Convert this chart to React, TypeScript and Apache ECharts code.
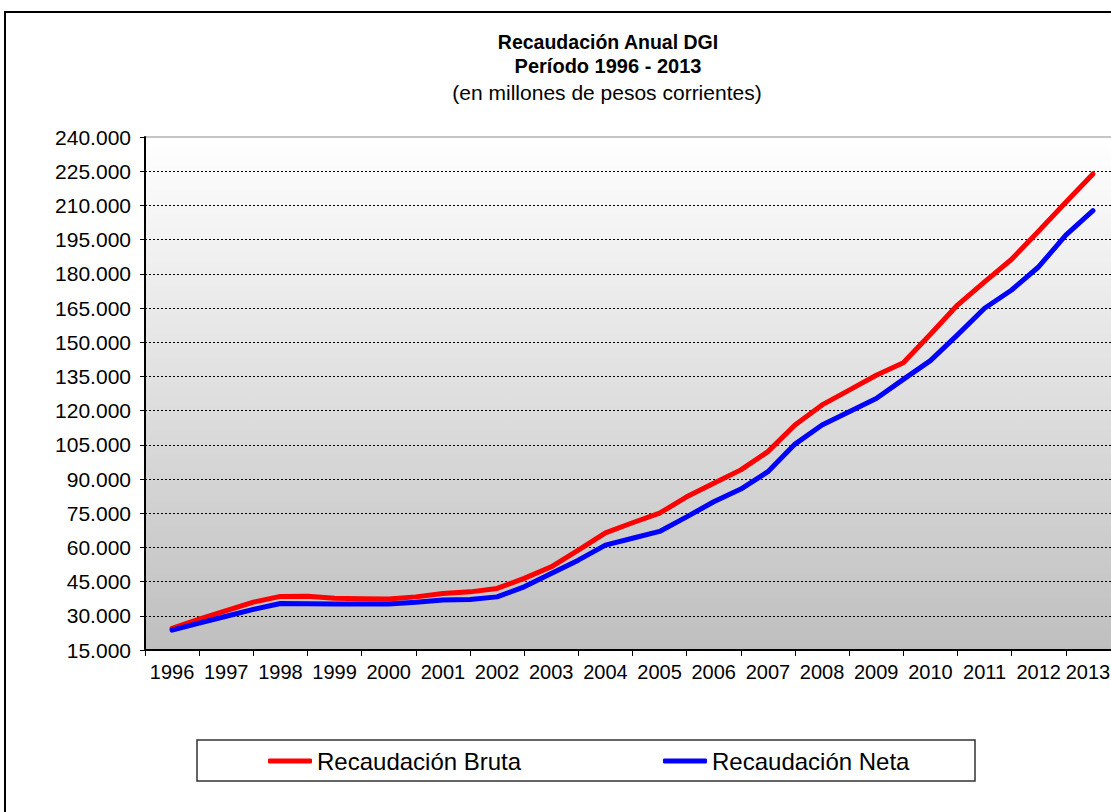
import React, { useEffect, useRef } from 'react';
import * as echarts from 'echarts';

const FONT = '"Liberation Sans", Arial, Helvetica, sans-serif';

const years = ['1996', '1997', '1998', '1999', '2000', '2001', '2002', '2003', '2004', '2005', '2006', '2007', '2008', '2009', '2010', '2011', '2012', '2013'];

// half-year positions of the plotted points (year = category centre)
const periods = [
  1996, 1996.5, 1997, 1997.5, 1998, 1998.5, 1999, 1999.5, 2000, 2000.5,
  2001, 2001.5, 2002, 2002.5, 2003, 2003.5, 2004, 2004.5, 2005, 2005.5,
  2006, 2006.5, 2007, 2007.5, 2008, 2008.5, 2009, 2009.5, 2010, 2010.5,
  2011, 2011.5, 2012, 2012.5, 2013,
];

const bruta = [
  24500, 28500, 32300, 36000, 38500, 38600, 37700, 37500, 37400, 38300,
  39800, 40500, 42000, 46400, 51500, 58800, 66400, 70800, 75000, 82200,
  88100, 94000, 102000, 113700, 122500, 129000, 135500, 141000, 153500, 166300,
  176500, 186400, 198800, 211400, 223800,
];

const neta = [
  23700, 26800, 29800, 32800, 35400, 35300, 35200, 35200, 35200, 35900,
  36900, 37100, 38300, 42700, 48600, 54400, 61000, 64000, 67000, 73400,
  80000, 85600, 93200, 105300, 113700, 119500, 125300, 133700, 141900, 153200,
  164900, 172900, 183100, 197000, 207700,
];

const seriesNames = ['Recaudación Bruta', 'Recaudación Neta'];
const titleLines = ['Recaudación Anual DGI', 'Período 1996 - 2013', '(en millones de pesos corrientes)'];

const Y_MIN = 15000;
const Y_MAX = 240000;
const Y_STEP = 15000;

export default function App() {
  const ref = useRef<HTMLDivElement>(null);

  useEffect(() => {
    if (!ref.current) return;
    const chart = echarts.init(ref.current, null, { renderer: 'svg' });
    const lastIdx = years.length - 1;
    chart.setOption({
      animation: false,
      backgroundColor: '#ffffff',
      textStyle: { fontFamily: FONT },
      grid: {
        left: 145,
        top: 137,
        width: 975,
        height: 513,
        show: true,
        backgroundColor: new echarts.graphic.LinearGradient(0, 0, 0, 1, [
          { offset: 0, color: '#ffffff' },
          { offset: 1, color: '#bfbfbf' },
        ]),
        borderColor: '#8c8c8c',
        borderWidth: 1,
      },
      graphic: [
        {
          type: 'rect',
          z: 0,
          shape: { x: 5, y: 12, width: 1200, height: 900 },
          style: { fill: 'none', stroke: '#000', lineWidth: 2 },
        },
        {
          type: 'rect',
          z: 0,
          shape: { x: 197, y: 740, width: 778, height: 41 },
          style: { fill: '#ffffff', stroke: '#333', lineWidth: 1.5 },
        },
        {
          type: 'text',
          x: 608,
          y: 42,
          style: { text: titleLines[0], align: 'center', verticalAlign: 'middle', font: `bold 19.5px ${FONT}`, fill: '#000' },
        },
        {
          type: 'text',
          x: 608,
          y: 66,
          style: { text: titleLines[1], align: 'center', verticalAlign: 'middle', font: `bold 20px ${FONT}`, fill: '#000' },
        },
        {
          type: 'text',
          x: 607,
          y: 92,
          style: { text: titleLines[2], align: 'center', verticalAlign: 'middle', font: `21px ${FONT}`, fill: '#000' },
        },
      ],
      legend: {
        left: 268,
        top: 749,
        padding: 0,
        itemWidth: 44,
        itemHeight: 5,
        itemGap: 138,
        icon: 'roundRect',
        data: seriesNames,
        textStyle: { fontSize: 24, color: '#000', fontFamily: FONT, width: 208, lineHeight: 24 },
      },
      xAxis: [
        {
          type: 'category',
          data: years.map((y, i) =>
            i === lastIdx ? { value: y, textStyle: { padding: [0, 10, 0, 0] } } : y
          ),
          boundaryGap: true,
          axisLine: { show: true, lineStyle: { color: '#000', width: 2 } },
          axisTick: { show: true, interval: 0, length: 6, lineStyle: { color: '#000', width: 1 } },
          axisLabel: { interval: 0, fontSize: 20, color: '#000', margin: 12, fontFamily: FONT },
          splitLine: { show: false },
        },
        {
          type: 'value',
          min: 1995.5,
          max: 2013.5,
          show: false,
          splitLine: { show: false },
        },
      ],
      yAxis: {
        type: 'value',
        min: Y_MIN,
        max: Y_MAX,
        interval: Y_STEP,
        axisLine: { show: true, lineStyle: { color: '#000', width: 2 } },
        axisTick: { show: true, length: 5, lineStyle: { color: '#000' } },
        axisLabel: {
          fontSize: 21,
          color: '#000',
          margin: 14,
          fontFamily: FONT,
          formatter: (v: number) => `${v / 1000}.000`,
        },
        splitLine: { show: true, showMaxLine: false, lineStyle: { color: '#000', type: [2, 2], width: 1 } },
      },
      series: [
        {
          name: seriesNames[0],
          type: 'line',
          xAxisIndex: 1,
          data: periods.map((p, i) => [p, bruta[i]]),
          symbol: 'none',
          lineStyle: { color: '#ff0000', width: 5, cap: 'round', join: 'round' },
          itemStyle: { color: '#ff0000' },
        },
        {
          name: seriesNames[1],
          type: 'line',
          xAxisIndex: 1,
          data: periods.map((p, i) => [p, neta[i]]),
          symbol: 'none',
          lineStyle: { color: '#0000ff', width: 5, cap: 'round', join: 'round' },
          itemStyle: { color: '#0000ff' },
        },
      ],
    });
    return () => chart.dispose();
  }, []);

  return (
    <div
      style={{ position: 'fixed', left: 0, top: 0, width: 1111, height: 812, overflow: 'hidden', background: '#fff' }}
    >
      <div ref={ref} style={{ width: 1150, height: 812 }} />
    </div>
  );
}
